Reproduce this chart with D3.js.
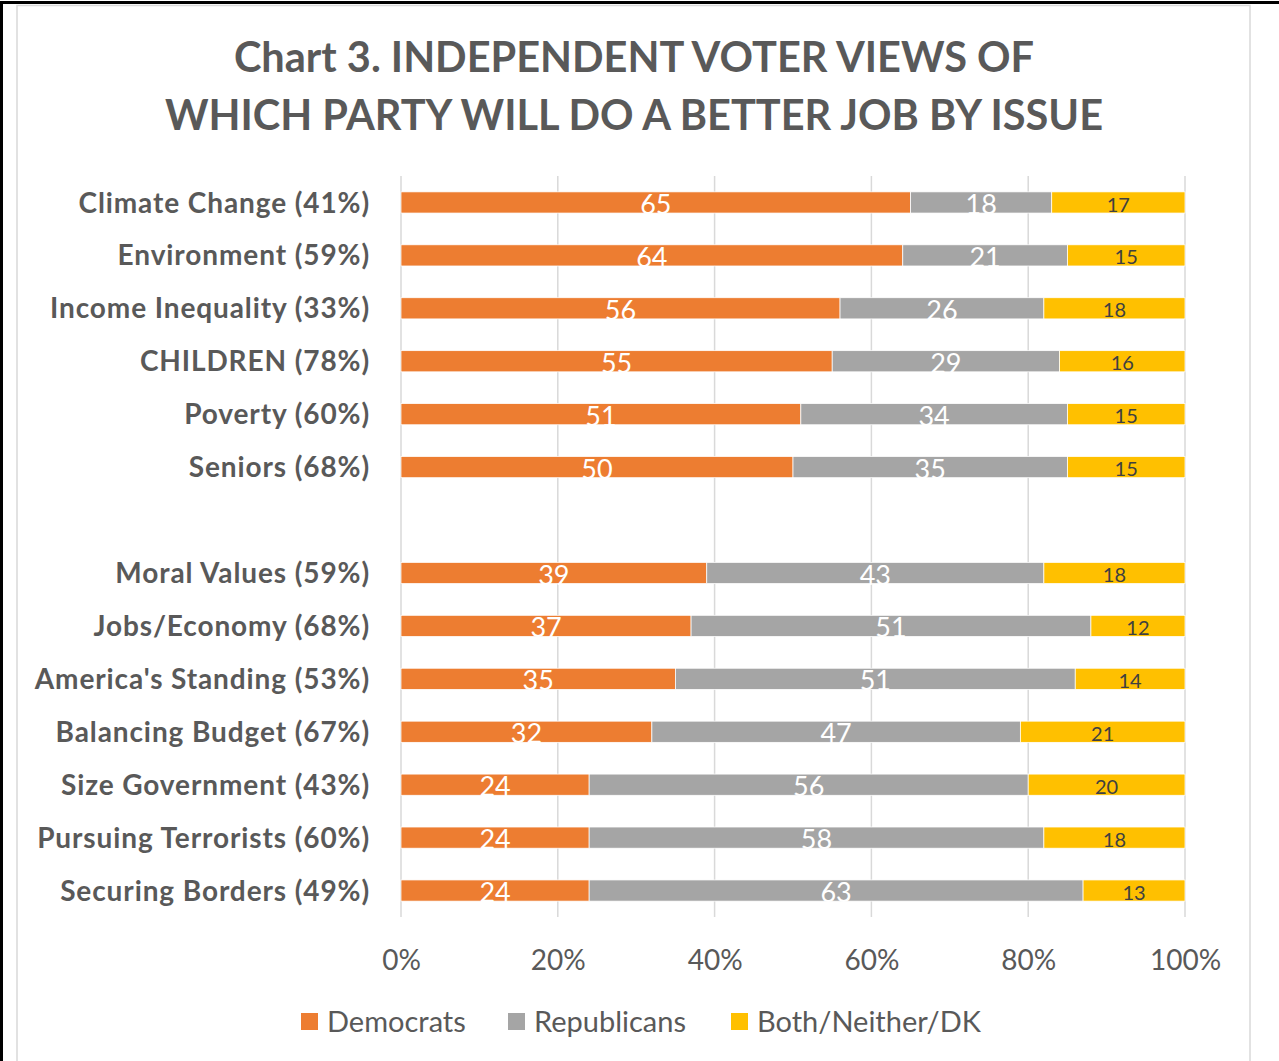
<!DOCTYPE html>
<html>
<head>
<meta charset="utf-8">
<script src="https://cdn.jsdelivr.net/npm/d3@7"></script>
<style>
  html, body { margin: 0; padding: 0; background: #fff; }
  svg { display: block; }
</style>
</head>
<body>
<svg id="chart" width="1279" height="1061"></svg>
<script>
// Issue labels (share of independents rating the issue important), top to bottom.
// The first six and the last seven are separated by an empty row.
const issuesTop = [
  "Climate Change (41%)", "Environment (59%)", "Income Inequality (33%)",
  "CHILDREN (78%)", "Poverty (60%)", "Seniors (68%)"
];
const issuesBottom = [
  "Moral Values (59%)", "Jobs/Economy (68%)", "America's Standing (53%)",
  "Balancing Budget (67%)", "Size Government (43%)", "Pursuing Terrorists (60%)",
  "Securing Borders (49%)"
];
const issues = issuesTop.concat(issuesBottom);

// Percent of independents naming each party, per issue (same order as above)
const democrats   = [65, 64, 56, 55, 51, 50, 39, 37, 35, 32, 24, 24, 24];
const republicans = [18, 21, 26, 29, 34, 35, 43, 51, 51, 47, 56, 58, 63];
const bothNeither = [17, 15, 18, 16, 15, 15, 18, 12, 14, 21, 20, 18, 13];

const seriesNames = ["Democrats", "Republicans", "Both/Neither/DK"];
const seriesColors = ["#ED7D31", "#A5A5A5", "#FFC000"];
const tickValues = [0, 20, 40, 60, 80, 100];
const titleLines = ["Chart 3. INDEPENDENT VOTER VIEWS OF", "WHICH PARTY WILL DO A BETTER JOB BY ISSUE"];

const FONT = "Lato, 'Open Sans', sans-serif";
const svg = d3.select("#chart");

// outer frame and chart-area border
svg.append("rect").attr("x", 1.5).attr("y", 2.5).attr("width", 1400).attr("height", 1200)
  .attr("fill", "none").attr("stroke", "#000").attr("stroke-width", 3);
svg.append("rect").attr("x", 17).attr("y", 5.5).attr("width", 1233).attr("height", 1200)
  .attr("fill", "#fff").attr("stroke", "#D9D9D9").attr("stroke-width", 1.5);

// rows: issues with a spacer between the two groups
const SPACER = "__gap__";
const rowKeys = issuesTop.concat([SPACER], issuesBottom);

const rows = issues.map((name, i) => ({
  name,
  values: [democrats[i], republicans[i], bothNeither[i]]
}));

const stack = d3.stack().keys([0, 1, 2]).value((d, k) => d.values[k]);
const layers = stack(rows);

const x = d3.scaleLinear().domain([0, 100]).range([401, 1185]);
const y = d3.scaleBand().domain(rowKeys).range([176, 917]).paddingInner(0.6).paddingOuter(0.3);

// gridlines
const grid = svg.append("g");
grid.selectAll("line").data(tickValues).join("line")
  .attr("x1", d => x(d)).attr("x2", d => x(d))
  .attr("y1", 176).attr("y2", 917)
  .attr("stroke", "#D9D9D9").attr("stroke-width", 1.5);

// stacked bars
const barG = svg.append("g");
layers.forEach((layer, k) => {
  barG.append("g").selectAll("rect").data(layer).join("rect")
    .attr("x", d => x(d[0]))
    .attr("y", d => y(d.data.name))
    .attr("width", d => x(d[1]) - x(d[0]))
    .attr("height", y.bandwidth())
    .attr("fill", seriesColors[k])
    .attr("stroke", "#fff").attr("stroke-width", 0.75);
});

// value labels centred in each segment
layers.forEach((layer, k) => {
  const small = k === 2;
  svg.append("g").selectAll("text").data(layer).join("text")
    .attr("x", d => x((d[0] + d[1]) / 2))
    .attr("y", d => y(d.data.name) + y.bandwidth() + (small ? -1.5 : 1))
    .attr("text-anchor", "middle")
    .attr("font-family", FONT)
    .attr("font-size", small ? 20 : 27)
    .attr("fill", small ? "#404040" : "#fff")
    .text(d => d.data.values[k]);
});

// category axis labels
svg.append("g").selectAll("text").data(issues).join("text")
  .attr("x", 370)
  .attr("y", d => y(d) + y.bandwidth() / 2)
  .attr("dy", "0.36em")
  .attr("text-anchor", "end")
  .attr("font-family", FONT)
  .attr("font-weight", "bold")
  .attr("font-size", 28)
  .attr("letter-spacing", 0.9)
  .attr("fill", "#595959")
  .text(d => d);

// value axis tick labels
const xAxis = d3.axisBottom(x).tickValues(tickValues).tickFormat(d => d + "%").tickSize(0).tickPadding(0);
const axG = svg.append("g").attr("transform", "translate(0,970)").call(xAxis);
axG.select(".domain").remove();
axG.selectAll("text")
  .attr("y", 0).attr("dy", 0)
  .attr("font-family", FONT).attr("font-size", 28).attr("fill", "#595959");

// title
svg.append("g").selectAll("text").data(titleLines).join("text")
  .attr("x", 634)
  .attr("y", (d, i) => 72 + i * 58)
  .attr("text-anchor", "middle")
  .attr("font-family", FONT)
  .attr("font-weight", "bold")
  .attr("font-size", 41.5)
  .attr("fill", "#595959")
  .text(d => d);

// legend
const legendX = [301, 508, 731];
const lg = svg.append("g").selectAll("g").data(seriesNames).join("g")
  .attr("transform", (d, i) => `translate(${legendX[i]},1013)`);
lg.append("rect").attr("width", 17).attr("height", 17).attr("fill", (d, i) => seriesColors[i]);
lg.append("text").attr("x", 26).attr("y", 18.5)
  .attr("font-family", FONT).attr("font-size", 29).attr("fill", "#595959")
  .text(d => d);
</script>
</body>
</html>
